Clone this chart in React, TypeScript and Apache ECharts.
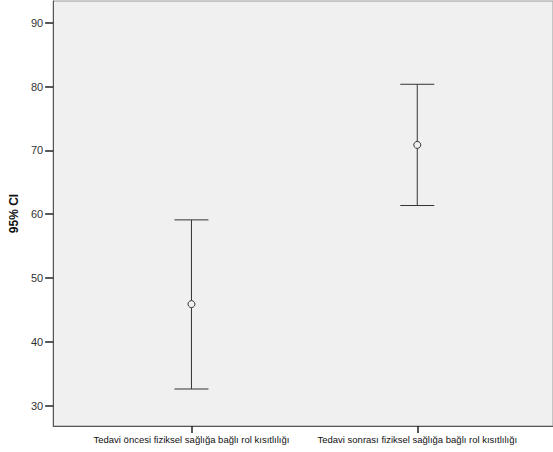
import React, { useEffect, useRef } from "react";
import * as echarts from "echarts";

// Groups along the x axis
const categories = [
  "Tedavi öncesi fiziksel sağlığa bağlı rol kısıtlılığı",
  "Tedavi sonrası fiziksel sağlığa bağlı rol kısıtlılığı",
];
// Mean and 95% confidence interval bounds per group
const means = [45.9, 70.85];
const lowerBounds = [32.6, 61.35];
const upperBounds = [59.1, 80.35];
// Y axis tick values
const yTicks = [30, 40, 50, 60, 70, 80, 90];

const FONT = "'Liberation Sans', Arial, sans-serif";

export default function App() {
  const ref = useRef<HTMLDivElement>(null);

  useEffect(() => {
    if (!ref.current) return;
    const chart = echarts.init(ref.current, undefined, { renderer: "svg" });

    const barData = categories.map((_, i) => [i, means[i], lowerBounds[i], upperBounds[i]]);

    chart.setOption({
      animation: false,
      grid: {
        left: 52,
        right: -5,
        top: 1,
        bottom: 26,
        show: true,
        backgroundColor: "#f0f0f0",
        borderColor: "#9a9a9a",
        borderWidth: 1,
      },
      xAxis: {
        type: "value",
        min: -0.6125,
        max: 1.601,
        splitLine: { show: false },
        axisLine: { show: true, onZero: false, lineStyle: { color: "#555", width: 1 } },
        axisTick: { show: true, customValues: [0, 1], length: 7, lineStyle: { color: "#222", width: 1.5 } },
        axisLabel: {
          customValues: [0, 1],
          formatter: (v: number) => categories[Math.round(v)] ?? "",
          color: "#111",
          fontSize: 9.5,
          fontFamily: FONT,
          margin: 8,
        },
      },
      yAxis: {
        type: "value",
        min: 26.8,
        max: 93.4,
        splitLine: { show: false },
        axisLine: { show: true, onZero: false, lineStyle: { color: "#555", width: 1 } },
        axisTick: { show: true, customValues: yTicks, length: 8, lineStyle: { color: "#222", width: 1.5 } },
        axisLabel: {
          customValues: yTicks,
          color: "#333",
          fontSize: 11,
          fontFamily: FONT,
          margin: 10,
        },
        name: "95% CI",
        nameLocation: "middle",
        nameGap: 28,
        nameTextStyle: { fontSize: 12, fontWeight: "bold", color: "#111", fontFamily: FONT },
      },
      series: [
        {
          type: "custom",
          data: barData,
          renderItem: (params: any, api: any) => {
            const x = api.value(0);
            const pLo = api.coord([x, api.value(2)]);
            const pHi = api.coord([x, api.value(3)]);
            const pMean = api.coord([x, api.value(1)]);
            const half = 17;
            const lineStyle = { stroke: "#333", lineWidth: 1 };
            return {
              type: "group",
              children: [
                { type: "line", shape: { x1: pHi[0], y1: pHi[1], x2: pLo[0], y2: pLo[1] }, style: lineStyle },
                { type: "line", shape: { x1: pHi[0] - half, y1: pHi[1], x2: pHi[0] + half, y2: pHi[1] }, style: lineStyle },
                { type: "line", shape: { x1: pLo[0] - half, y1: pLo[1], x2: pLo[0] + half, y2: pLo[1] }, style: lineStyle },
                {
                  type: "circle",
                  shape: { cx: pMean[0], cy: pMean[1], r: 3.5 },
                  style: { fill: "#f0f0f0", stroke: "#333", lineWidth: 1 },
                },
              ],
            };
          },
        },
      ],
    });

    return () => chart.dispose();
  }, []);

  return (
    <div
      ref={ref}
      style={{ position: "fixed", left: 0, top: 0, width: 553, height: 452, background: "#fff" }}
    />
  );
}
